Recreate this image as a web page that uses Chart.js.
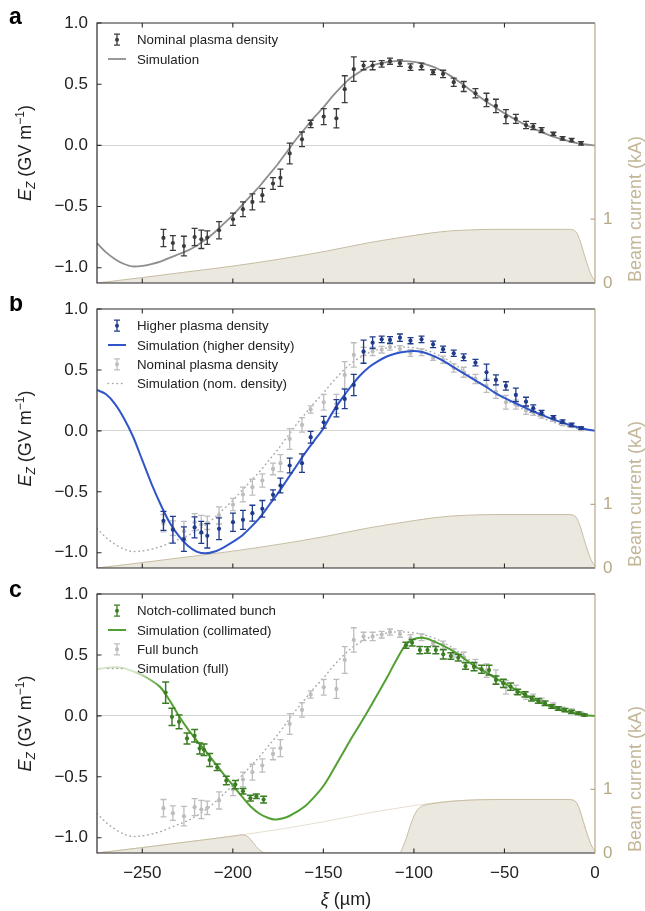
<!DOCTYPE html>
<html><head><meta charset="utf-8">
<script src="https://cdn.jsdelivr.net/npm/chart.js@4.4.1/dist/chart.umd.min.js"></script>
<style>
html,body{margin:0;padding:0;background:#fff;}
body{width:645px;height:911px;position:relative;overflow:hidden;}
canvas{position:absolute;left:0;}
</style></head><body>
<canvas id="ca" width="645" height="296" style="top:0px;width:645px;height:296px"></canvas>
<canvas id="cb" width="645" height="286" style="top:296px;width:645px;height:286px"></canvas>
<canvas id="cc" width="645" height="329" style="top:582px;width:645px;height:329px"></canvas>
<script>
// ---------- tick labels ----------
const xTicks = [-250, -200, -150, -100, -50, 0];
const yTicks = [-1.0, -0.5, 0.0, 0.5, 1.0];
const beamTicks = [0, 1];

// ---------- measured data: nominal plasma density / full bunch ----------
const nomXi = [-238.3,-233.1,-227.0,-221.1,-217.4,-214.1,-207.6,-199.9,-194.4,-189.2,-183.7,-177.8,-173.7,-168.6,-161.8,-157.0,-149.8,-142.8,-138.2,-133.2,-127.8,-122.8,-117.8,-113.2,-107.7,-101.9,-95.8,-89.4,-83.9,-78.0,-72.5,-66.0,-59.9,-54.7,-49.2,-43.7,-38.1,-34.1,-29.5,-23.0,-17.9,-12.9,-7.7];
const nomE = [-0.757,-0.798,-0.823,-0.749,-0.768,-0.754,-0.694,-0.604,-0.522,-0.462,-0.407,-0.312,-0.265,-0.066,0.049,0.175,0.235,0.221,0.459,0.623,0.652,0.652,0.666,0.688,0.672,0.639,0.645,0.598,0.584,0.516,0.481,0.426,0.371,0.322,0.235,0.216,0.166,0.153,0.125,0.093,0.057,0.043,0.016];
const nomErr = [0.071,0.06,0.08,0.07,0.075,0.055,0.07,0.05,0.06,0.065,0.055,0.048,0.07,0.085,0.06,0.03,0.065,0.078,0.11,0.1,0.034,0.034,0.027,0.025,0.027,0.027,0.027,0.02,0.03,0.034,0.041,0.038,0.055,0.055,0.057,0.037,0.03,0.025,0.02,0.014,0.014,0.014,0.014];

// ---------- measured data: higher plasma density ----------
const highXi = nomXi;
const highE = [-0.738,-0.811,-0.888,-0.792,-0.833,-0.861,-0.803,-0.749,-0.73,-0.675,-0.639,-0.525,-0.448,-0.284,-0.265,-0.052,0.071,0.186,0.262,0.377,0.65,0.724,0.751,0.746,0.765,0.74,0.751,0.71,0.67,0.637,0.604,0.56,0.481,0.418,0.369,0.295,0.24,0.186,0.15,0.112,0.076,0.049,0.022];
const highErr = [0.078,0.11,0.1,0.086,0.09,0.1,0.09,0.075,0.078,0.065,0.068,0.041,0.061,0.061,0.076,0.048,0.048,0.071,0.08,0.087,0.095,0.048,0.027,0.027,0.03,0.025,0.027,0.027,0.026,0.025,0.027,0.026,0.067,0.041,0.034,0.055,0.036,0.027,0.019,0.014,0.014,0.014,0.01];

// ---------- measured data: notch-collimated bunch ----------
const colXi = [-237.1,-233.6,-229.7,-225.3,-221.1,-218.3,-215.9,-212.8,-208.6,-203.6,-198.6,-194.4,-190.3,-187.0,-183.0,-104.4,-101.0,-96.7,-92.5,-87.9,-83.8,-79.6,-75.5,-71.5,-66.8,-62.6,-58.5,-54.7,-50.6,-46.6,-42.7,-38.7,-35.0,-31.3,-27.6,-23.9,-20.3,-16.6,-12.9,-9.2,-5.9];
const colE = [0.191,-0.008,-0.049,-0.185,-0.163,-0.267,-0.278,-0.362,-0.422,-0.531,-0.564,-0.618,-0.675,-0.659,-0.687,0.58,0.6,0.54,0.54,0.54,0.505,0.491,0.477,0.409,0.404,0.382,0.376,0.294,0.267,0.24,0.196,0.177,0.142,0.123,0.104,0.077,0.06,0.047,0.033,0.022,0.008];
const colErr = [0.087,0.071,0.057,0.045,0.052,0.045,0.048,0.054,0.027,0.035,0.034,0.023,0.023,0.018,0.027,0.025,0.027,0.03,0.027,0.03,0.038,0.027,0.027,0.027,0.034,0.033,0.04,0.034,0.034,0.029,0.023,0.022,0.02,0.02,0.018,0.014,0.014,0.014,0.014,0.01,0.008];

// ---------- simulations ----------
const simXi = [-275,-270,-265,-260,-255,-250,-245,-240,-235,-230,-225,-220,-215,-210,-205,-200,-195,-190,-185,-180,-175,-170,-165,-160,-155,-150,-145,-140,-135,-130,-125,-120,-115,-110,-105,-100,-95,-90,-85,-80,-75,-70,-65,-60,-55,-50,-45,-40,-35,-30,-25,-20,-15,-10,-5,0];
const simNomE = [-0.80,-0.875,-0.93,-0.97,-0.99,-0.985,-0.97,-0.95,-0.92,-0.89,-0.86,-0.82,-0.77,-0.71,-0.64,-0.57,-0.49,-0.41,-0.33,-0.24,-0.15,-0.05,0.05,0.14,0.23,0.31,0.40,0.48,0.55,0.60,0.64,0.665,0.68,0.688,0.688,0.682,0.668,0.645,0.612,0.57,0.52,0.465,0.41,0.357,0.31,0.262,0.22,0.18,0.145,0.112,0.082,0.057,0.036,0.019,0.007,0];
const simHighE = [0.336,0.30,0.22,0.10,-0.05,-0.24,-0.43,-0.60,-0.75,-0.86,-0.94,-0.99,-1.005,-0.99,-0.955,-0.91,-0.86,-0.79,-0.71,-0.61,-0.51,-0.40,-0.29,-0.18,-0.08,0.02,0.15,0.26,0.36,0.45,0.52,0.57,0.61,0.635,0.65,0.656,0.645,0.62,0.585,0.54,0.495,0.45,0.405,0.36,0.31,0.27,0.235,0.2,0.165,0.135,0.105,0.078,0.053,0.032,0.014,0];
const simColXi = [-275,-270,-265,-260,-255,-250,-245,-240,-235,-230,-225,-220,-215,-210,-205,-200,-195,-190,-185,-180,-177,-175,-170,-165,-160,-155,-150,-145,-140,-135,-130,-125,-120,-115,-110,-105,-102,-99,-96,-93,-90,-85,-80,-75,-70,-65,-60,-55,-50,-45,-40,-35,-30,-25,-20,-15,-10,-5,0];
const simColE = [0.382,0.395,0.40,0.39,0.365,0.335,0.29,0.235,0.13,0.005,-0.105,-0.2,-0.29,-0.385,-0.48,-0.57,-0.66,-0.745,-0.805,-0.84,-0.85,-0.848,-0.83,-0.79,-0.74,-0.665,-0.575,-0.455,-0.325,-0.195,-0.075,0.05,0.18,0.31,0.45,0.575,0.615,0.635,0.642,0.635,0.618,0.585,0.545,0.50,0.445,0.395,0.355,0.31,0.268,0.225,0.183,0.145,0.11,0.08,0.055,0.035,0.018,0.006,0];

// ---------- beam current (kA) ----------
const beamXi = [-275,-250,-225,-200,-175,-150,-125,-110,-100,-90,-80,-70,-55,-15,-12,-10,-8,-6,-4,-2,0];
const beamI = [0,0.085,0.175,0.265,0.37,0.49,0.63,0.70,0.745,0.785,0.815,0.83,0.84,0.84,0.83,0.78,0.64,0.45,0.27,0.12,0.03];
const notchXi = [-275,-250,-225,-200,-197,-195,-193,-191,-189,-187,-185,-183,-181,-108,-106,-104,-102,-100,-98,-96,-93,-90,-80,-70,-55,-15,-12,-10,-8,-6,-4,-2,0];
const notchI = [0,0.085,0.175,0.265,0.278,0.285,0.275,0.24,0.17,0.1,0.04,0.008,0,0,0.1,0.25,0.43,0.58,0.68,0.73,0.76,0.775,0.81,0.83,0.84,0.84,0.83,0.78,0.64,0.45,0.27,0.12,0.03];

// ---------- styling ----------
const FONT = "'Liberation Sans', Arial, Helvetica, sans-serif";
const TAN = '#b7a986';
const TAN_TITLE = '#c3b697';
const INK = '#222222';
const TL = 4.5;

function pts(xs, ys) { return xs.map((x, i) => ({ x: x, y: ys[i] })); }
function fmtY(v) { return (v < 0 ? '\u2212' : '') + Math.abs(v).toFixed(1); }
function fmtX(v) { return (v < 0 ? '\u2212' : '') + Math.abs(v); }

function errSet(xs, ys, es, color, opts) {
  opts = opts || {};
  return {
    type: 'line', data: pts(xs, ys), errors: es, errColor: color,
    errWidth: opts.w || 1.3, capW: opts.cap || 3,
    showLine: false, pointRadius: opts.r || 2.1, pointHoverRadius: 0,
    pointBackgroundColor: color, pointBorderWidth: 0, borderColor: color, yAxisID: 'y'
  };
}
function simSet(xs, ys, color, width, dash) {
  return {
    type: 'line', data: pts(xs, ys), borderColor: color, borderWidth: width,
    borderDash: dash || [], borderCapStyle: dash ? 'round' : 'butt',
    pointRadius: 0, cubicInterpolationMode: 'monotone', fill: false, yAxisID: 'y'
  };
}
function beamSet(xs, ys, filled) {
  return {
    type: 'line', data: pts(xs, ys), yAxisID: 'yB',
    borderColor: filled ? '#c8bda3' : '#e6dfcf', borderWidth: 1,
    backgroundColor: '#ebe8e0', fill: filled ? 'origin' : false,
    pointRadius: 0, cubicInterpolationMode: 'monotone'
  };
}

const decor = {
  id: 'decor',
  beforeDatasetDraw(chart, args) {
    const ds = chart.data.datasets[args.index];
    if (!ds.errors) return;
    const c = chart.ctx, xs = chart.scales.x, ys = chart.scales.y, a = chart.chartArea;
    c.save();
    c.beginPath(); c.rect(a.left, a.top, a.right - a.left, a.bottom - a.top); c.clip();
    c.strokeStyle = ds.errColor; c.lineWidth = ds.errWidth;
    const cw = ds.capW;
    ds.data.forEach((p, i) => {
      const e = ds.errors[i];
      const px = xs.getPixelForValue(p.x);
      const y1 = ys.getPixelForValue(p.y - e), y2 = ys.getPixelForValue(p.y + e);
      c.beginPath();
      c.moveTo(px, y1); c.lineTo(px, y2);
      c.moveTo(px - cw, y1); c.lineTo(px + cw, y1);
      c.moveTo(px - cw, y2); c.lineTo(px + cw, y2);
      c.stroke();
    });
    c.restore();
  },
  afterDatasetsDraw(chart, args, o) {
    const c = chart.ctx, a = chart.chartArea;
    const xs = chart.scales.x, ys = chart.scales.y, yb = chart.scales.yB;
    c.save();
    // frame
    c.lineWidth = 1.2; c.strokeStyle = '#2a2a2a';
    c.beginPath();
    c.moveTo(a.right, a.top); c.lineTo(a.left, a.top); c.lineTo(a.left, a.bottom); c.lineTo(a.right, a.bottom);
    c.stroke();
    // inward ticks
    c.lineWidth = 1.1;
    c.beginPath();
    xTicks.forEach(v => {
      if (v >= 0) return;
      const px = xs.getPixelForValue(v);
      c.moveTo(px, a.bottom); c.lineTo(px, a.bottom - TL);
      c.moveTo(px, a.top); c.lineTo(px, a.top + TL);
    });
    yTicks.forEach(v => {
      const py = ys.getPixelForValue(v);
      c.moveTo(a.left, py); c.lineTo(a.left + TL, py);
    });
    c.stroke();
    // right (beam) axis
    c.strokeStyle = TAN; c.lineWidth = 1.2;
    c.beginPath(); c.moveTo(a.right, a.top); c.lineTo(a.right, a.bottom + 0.6); c.stroke();
    c.beginPath();
    beamTicks.forEach(v => { if (v === 0) return; const py = yb.getPixelForValue(v); c.moveTo(a.right, py); c.lineTo(a.right - TL, py); });
    c.stroke();

    // panel letter
    c.fillStyle = '#000'; c.font = 'bold 23px ' + FONT; c.textAlign = 'left'; c.textBaseline = 'alphabetic';
    c.fillText(o.letter, 9, o.letterY);

    // y title: E_Z (GV m^-1)
    c.save();
    c.translate(31, (a.top + a.bottom) / 2);
    c.rotate(-Math.PI / 2);
    c.fillStyle = INK;
    const parts = [
      { t: 'E', f: 'italic 18px ' + FONT, dy: 0 },
      { t: 'Z', f: 'italic 12px ' + FONT, dy: 4 },
      { t: ' (GV m', f: '18px ' + FONT, dy: 0 },
      { t: '\u22121', f: '12px ' + FONT, dy: -7.5 },
      { t: ')', f: '18px ' + FONT, dy: 0 }
    ];
    let tot = 0;
    parts.forEach(p => { c.font = p.f; p.w = c.measureText(p.t).width; tot += p.w; });
    let cx = -tot / 2;
    c.textAlign = 'left'; c.textBaseline = 'alphabetic';
    parts.forEach(p => { c.font = p.f; c.fillText(p.t, cx, p.dy); cx += p.w; });
    c.restore();

    // right title
    c.save();
    c.translate(641, a.bottom - 1);
    c.rotate(-Math.PI / 2);
    c.fillStyle = TAN_TITLE; c.font = '18px ' + FONT; c.textAlign = 'left'; c.textBaseline = 'alphabetic';
    c.fillText('Beam current (kA)', 0, 0);
    c.restore();

    // x title
    if (o.xTitle) {
      const p1 = { t: '\u03BE', f: 'italic 18px ' + FONT }, p2 = { t: ' (\u00B5m)', f: '18px ' + FONT };
      c.font = p1.f; const w1 = c.measureText(p1.t).width;
      c.font = p2.f; const w2 = c.measureText(p2.t).width;
      let sx = (a.left + a.right) / 2 - (w1 + w2) / 2;
      c.fillStyle = INK; c.textAlign = 'left'; c.textBaseline = 'alphabetic';
      c.font = p1.f; c.fillText(p1.t, sx, o.xTitleY);
      c.font = p2.f; c.fillText(p2.t, sx + w1, o.xTitleY);
    }

    // legend
    o.legend.forEach((it, k) => {
      const y = a.top + 16.7 + k * 19.3;
      c.save();
      if (it.kind === 'err') {
        c.strokeStyle = it.color; c.fillStyle = it.color; c.lineWidth = 1.3;
        c.beginPath();
        c.moveTo(117, y - 5.5); c.lineTo(117, y + 5.5);
        c.moveTo(114, y - 5.5); c.lineTo(120, y - 5.5);
        c.moveTo(114, y + 5.5); c.lineTo(120, y + 5.5);
        c.stroke();
        c.beginPath(); c.arc(117, y, 2, 0, Math.PI * 2); c.fill();
      } else {
        c.strokeStyle = it.color; c.lineWidth = it.width;
        if (it.dash) { c.setLineDash(it.dash); c.lineCap = 'round'; }
        c.beginPath(); c.moveTo(108, y); c.lineTo(126, y); c.stroke();
      }
      c.restore();
      c.fillStyle = INK; c.font = '13.3px ' + FONT; c.textAlign = 'left'; c.textBaseline = 'alphabetic';
      c.fillText(it.text, 137, y + 4.7);
    });
    c.restore();
  }
};

function noPad(s) { s.paddingTop = 0; s.paddingBottom = 0; }

function makeChart(id, padTop, xHeight, showX, datasets, decorOpts) {
  const el = document.getElementById(id);
  return new Chart(el.getContext('2d'), {
    type: 'line',
    data: { datasets: datasets },
    options: {
      responsive: false, animation: false, devicePixelRatio: 1,
      layout: { padding: { top: padTop, bottom: 0, left: 0, right: 0 } },
      plugins: { legend: { display: false }, tooltip: { enabled: false }, decor: decorOpts },
      events: [],
      scales: {
        x: {
          type: 'linear', min: -275, max: 0, position: 'bottom',
          afterBuildTicks: s => { s.ticks = xTicks.map(v => ({ value: v })); },
          ticks: { display: showX, color: INK, font: { family: FONT, size: 17 }, padding: 10, maxRotation: 0, autoSkip: false, callback: v => fmtX(v) },
          grid: { display: false, drawTicks: false }, border: { display: false },
          afterFit: s => { s.height = xHeight; s.paddingLeft = 0; s.paddingRight = 0; }
        },
        y: {
          type: 'linear', min: -1.125, max: 1.0, position: 'left',
          afterBuildTicks: s => { s.ticks = yTicks.map(v => ({ value: v })); },
          ticks: { color: INK, font: { family: FONT, size: 17 }, padding: 9, callback: v => fmtY(v) },
          grid: { drawTicks: false, lineWidth: 1, color: ctx => (ctx.tick && Math.abs(ctx.tick.value) < 1e-9) ? '#d6d6d6' : 'rgba(0,0,0,0)' },
          border: { display: false },
          afterFit: s => { s.width = 97; noPad(s); }
        },
        yB: {
          type: 'linear', min: 0, max: 4.07, position: 'right',
          afterBuildTicks: s => { s.ticks = beamTicks.map(v => ({ value: v })); },
          ticks: { color: TAN, font: { family: FONT, size: 17 }, padding: 8, callback: v => String(v) },
          grid: { display: false, drawTicks: false }, border: { display: false },
          afterFit: s => { s.width = 50; noPad(s); }
        }
      }
    },
    plugins: [decor]
  });
}

const C_DARK = '#3b3b3b', C_SIM = '#8e8e8e', C_GRAY = '#bdbdbd', C_DOT = '#a9a9a9';
const C_NAVY = '#1f3b8c', C_BLUE = '#2f55c8', C_GDATA = '#3b7d23', C_GSIM = '#52a032';

// panel a
makeChart('ca', 23, 13, false, [
  errSet(nomXi, nomE, nomErr, C_DARK),
  simSet(simXi, simNomE, C_SIM, 1.8),
  beamSet(beamXi, beamI, true)
], {
  letter: 'a', letterY: 23.5, xTitle: false,
  legend: [
    { kind: 'err', color: C_DARK, text: 'Nominal plasma density' },
    { kind: 'line', color: C_SIM, width: 1.8, text: 'Simulation' }
  ]
});

// panel b
makeChart('cb', 13, 14, false, [
  errSet(highXi, highE, highErr, C_NAVY),
  simSet(simXi, simHighE, C_BLUE, 2),
  errSet(nomXi, nomE, nomErr, C_GRAY),
  simSet(simXi, simNomE, C_DOT, 1.5, [0.5, 4]),
  beamSet(beamXi, beamI, true)
], {
  letter: 'b', letterY: 15, xTitle: false,
  legend: [
    { kind: 'err', color: C_NAVY, text: 'Higher plasma density' },
    { kind: 'line', color: C_BLUE, width: 2, text: 'Simulation (higher density)' },
    { kind: 'err', color: C_GRAY, text: 'Nominal plasma density' },
    { kind: 'line', color: C_DOT, width: 1.5, dash: [0.5, 4], text: 'Simulation (nom. density)' }
  ]
});

// panel c
const colSim = simSet(simColXi, simColE, C_GSIM, 2);
colSim.borderColor = function (ctx) {
  const chart = ctx.chart;
  if (!chart.chartArea) return C_GSIM;
  const xs = chart.scales.x;
  const g = chart.ctx.createLinearGradient(xs.getPixelForValue(-254), 0, xs.getPixelForValue(-240), 0);
  g.addColorStop(0, '#d3e6c6'); g.addColorStop(1, C_GSIM);
  return g;
};
makeChart('cc', 12, 58, true, [
  errSet(colXi, colE, colErr, C_GDATA, { w: 1.5, cap: 3.5 }),
  colSim,
  errSet(nomXi, nomE, nomErr, C_GRAY),
  simSet(simXi, simNomE, C_DOT, 1.5, [0.5, 4]),
  beamSet(notchXi, notchI, true),
  beamSet(beamXi, beamI, false)
], {
  letter: 'c', letterY: 15, xTitle: true, xTitleY: 322.5,
  legend: [
    { kind: 'err', color: C_GDATA, text: 'Notch-collimated bunch' },
    { kind: 'line', color: C_GSIM, width: 2, text: 'Simulation (collimated)' },
    { kind: 'err', color: C_GRAY, text: 'Full bunch' },
    { kind: 'line', color: C_DOT, width: 1.5, dash: [0.5, 4], text: 'Simulation (full)' }
  ]
});
</script>
</body></html>
